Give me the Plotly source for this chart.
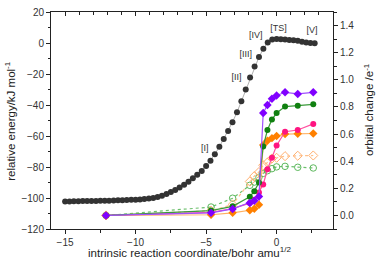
import plotly.graph_objects as go

# --- IRC energy profile (left axis) ---
irc_x = [-15.0, -14.69, -14.38, -14.06, -13.75, -13.44, -13.13, -12.81, -12.5, -12.19,
         -11.88, -11.56, -11.25, -10.94, -10.63, -10.31, -10.0, -9.69, -9.38, -9.06,
         -8.75, -8.44, -8.13, -7.81, -7.5, -7.19, -6.88, -6.56, -6.25, -5.94,
         -5.63, -5.31, -5.0, -4.69, -4.38, -4.06, -3.75, -3.44, -3.13, -2.81,
         -2.5, -2.19, -1.88, -1.56, -1.25, -0.94, -0.63, -0.31, 0.0, 0.3,
         0.6, 0.9, 1.2, 1.5, 1.8, 2.1, 2.4, 2.7]
irc_e = [-102.2, -102.2, -102.1, -102.1, -102.0, -102.0, -101.9, -101.9, -101.8, -101.7,
         -101.7, -101.6, -101.5, -101.4, -101.3, -101.2, -101.1, -100.9, -100.7, -100.4,
         -100.0, -99.3, -98.5, -97.4, -96.2, -94.8, -93.3, -91.5, -89.5, -87.3,
         -85.0, -82.5, -79.3, -75.9, -71.8, -67.0, -62.0, -56.8, -51.1, -44.7,
         -37.6, -30.0, -22.3, -15.2, -9.1, -3.7, 0.4, 2.2, 2.6, 2.4,
         2.2, 2.0, 1.8, 1.4, 0.8, 0.4, 0.0, -0.2]

# --- orbital changes (right axis) ---
orb_x = [-12.1, -4.65, -3.12, -1.9, -1.58, -1.25, -0.95, -0.65, -0.33, 0.0, 0.6, 1.5, 2.6]
purple_v = [0.0, 0.019, 0.048, 0.091, 0.108, 0.14, 0.755, 0.815, 0.86, 0.884, 0.908, 0.896, 0.908]
green_v = [0.0, 0.036, 0.067, 0.138, 0.179, 0.242, 0.509, 0.63, 0.707, 0.755, 0.803, 0.808, 0.819]
pink_v = [0.0, 0.022, 0.05, 0.091, 0.115, 0.17, 0.228, 0.34, 0.425, 0.516, 0.617, 0.63, 0.675]
orange_v = [0.0, 0.005, 0.019, 0.038, 0.05, 0.079, 0.52, 0.55, 0.57, 0.585, 0.6, 0.603, 0.604]
orange_open_v = [0.0, 0.035, 0.08, 0.25, 0.29, 0.32, 0.37, 0.39, 0.42, 0.425, 0.437, 0.44, 0.442]
green_open_v = [0.0, 0.062, 0.127, 0.222, 0.246, 0.282, 0.31, 0.33, 0.345, 0.358, 0.362, 0.355, 0.35]

labels_text = ["[I]", "[II]", "[III]", "[IV]", "[TS]", "[V]"]
labels_x = [-5.1, -2.84, -2.18, -1.48, 0.14, 2.51]
labels_y = [-68.5, -22.3, -7.6, 4.9, 9.3, 8.1]

x_title = "intrinsic reaction coordinate/bohr amu<sup>1/2</sup>"
y_title = "relative energy/kJ mol<sup>-1</sup>"
y2_title = "orbital change /e<sup>-1</sup>"

fig = go.Figure()

fig.add_trace(go.Scatter(x=orb_x, y=green_open_v, yaxis="y2", mode="lines+markers",
                         line=dict(color="#6cbf6c", width=1.2, dash="dot"),
                         marker=dict(symbol="circle-open", size=6.5, color="#5cb85c", line=dict(width=1)),
                         showlegend=False))
fig.add_trace(go.Scatter(x=orb_x, y=orange_open_v, yaxis="y2", mode="lines+markers",
                         line=dict(color="#ffc08a", width=1.2, dash="dot"),
                         marker=dict(symbol="diamond-open", size=7, color="#ffb070", line=dict(width=1)),
                         showlegend=False))
fig.add_trace(go.Scatter(x=orb_x, y=orange_v, yaxis="y2", mode="lines+markers",
                         line=dict(color="#ffb060", width=1.2),
                         marker=dict(symbol="diamond", size=6.5, color="#ff8000"),
                         showlegend=False))
fig.add_trace(go.Scatter(x=orb_x, y=pink_v, yaxis="y2", mode="lines+markers",
                         line=dict(color="#ff50a0", width=1.2),
                         marker=dict(symbol="circle", size=6, color="#ff1480"),
                         showlegend=False))
fig.add_trace(go.Scatter(x=orb_x, y=green_v, yaxis="y2", mode="lines+markers",
                         line=dict(color="#3a9a3a", width=1.2),
                         marker=dict(symbol="circle", size=6, color="#108010"),
                         showlegend=False))
fig.add_trace(go.Scatter(x=orb_x, y=purple_v, yaxis="y2", mode="lines+markers",
                         line=dict(color="#a050ff", width=1.2),
                         marker=dict(symbol="diamond", size=6.5, color="#8000ff"),
                         showlegend=False))

fig.add_trace(go.Scatter(x=irc_x, y=irc_e, mode="lines+markers",
                         line=dict(color="#b0b0b0", width=1),
                         marker=dict(symbol="circle", size=6, color="#333333"),
                         showlegend=False))

fig.add_trace(go.Scatter(x=labels_x, y=labels_y, mode="text", text=labels_text,
                         textfont=dict(size=9, color="#333333", family="Liberation Sans, Arial"),
                         showlegend=False, hoverinfo="skip"))

axcol = "#222222"
tickfont = dict(size=10, color="#333333", family="Liberation Sans, Arial")
titlefont = dict(size=11.5, color="#222222", family="Liberation Sans, Arial")

fig.update_layout(
    width=376, height=261,
    margin=dict(l=51, r=43, t=6, b=32),
    paper_bgcolor="white", plot_bgcolor="white",
    xaxis=dict(range=[-16, 4], dtick=5, tick0=0, ticks="outside", ticklen=4, tickwidth=1,
               tickcolor=axcol, showline=True, linecolor=axcol, linewidth=1,
               showgrid=False, zeroline=False, tickfont=tickfont,
               minor=dict(dtick=2.5, tick0=0, ticks="outside", ticklen=2.5, tickcolor=axcol, showgrid=False)),
    xaxis2=dict(range=[-16, 4], overlaying="x", side="top", dtick=5, tick0=0, ticks="inside",
                ticklen=4, tickcolor=axcol, showticklabels=False, showline=True, linecolor=axcol,
                linewidth=1, showgrid=False, zeroline=False,
                minor=dict(dtick=1, tick0=0, ticks="inside", ticklen=2.5, tickcolor=axcol, showgrid=False)),
    yaxis=dict(range=[-120, 20], dtick=20, ticks="outside", ticklen=4, tickcolor=axcol,
               showline=True, linecolor=axcol, linewidth=1, showgrid=False, zeroline=False,
               tickfont=tickfont,
               minor=dict(dtick=10, ticks="outside", ticklen=2.5, tickcolor=axcol, showgrid=False)),
    yaxis2=dict(range=[-0.1, 1.5], dtick=0.2, tick0=0, overlaying="y", side="right", ticks="outside",
                ticklen=4, tickcolor=axcol, showline=True, linecolor=axcol, linewidth=1,
                showgrid=False, zeroline=False, tickfont=tickfont, tickformat=".1f",
                minor=dict(dtick=0.1, tick0=0, ticks="outside", ticklen=2.5, tickcolor=axcol, showgrid=False)),
    annotations=[
        dict(text=x_title, xref="paper", yref="paper", x=0.49, y=-0.105, xanchor="center",
             yanchor="middle", showarrow=False, font=titlefont),
        dict(text=y_title, xref="paper", yref="paper", x=-0.148, y=0.5, xanchor="center",
             yanchor="middle", showarrow=False, font=titlefont, textangle=-90),
        dict(text=y2_title, xref="paper", yref="paper", x=1.125, y=0.55, xanchor="center",
             yanchor="middle", showarrow=False, font=titlefont, textangle=-90),
    ],
)
# dummy trace to activate xaxis2
fig.add_trace(go.Scatter(x=[-16], y=[None], xaxis="x2", showlegend=False, hoverinfo="skip"))

fig.write_html("out.html", config={"displayModeBar": False},
               post_script="document.body.style.margin='0px';document.body.style.padding='0px';")
